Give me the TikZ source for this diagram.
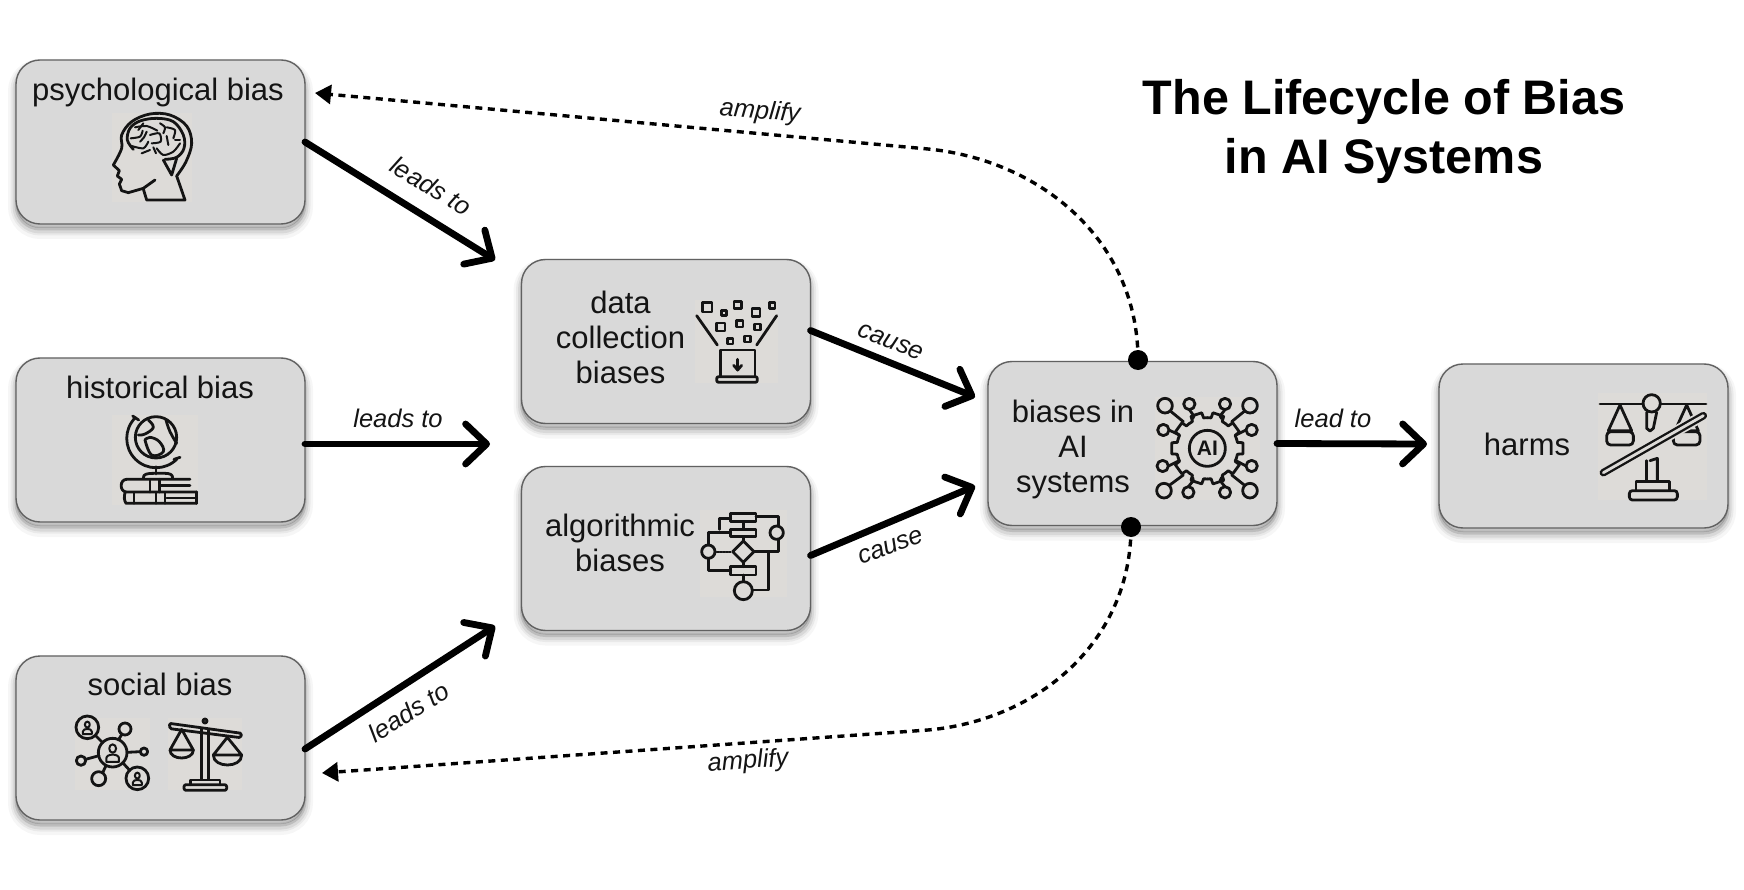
\documentclass[tikz,border=0pt]{standalone}
\usepackage{fontspec}
\setmainfont{Liberation Sans}
\usetikzlibrary{arrows.meta,calc}
\definecolor{boxgray}{HTML}{D9D9D9}
\definecolor{patchgray}{HTML}{DDDBD8}
\definecolor{inkc}{HTML}{141414}
\tikzset{
 biasbox/.style={rounded corners=24pt,fill=boxgray,draw=black!62,line width=1.4pt,minimum width=289pt,minimum height=164pt,inner sep=0pt,outer sep=0pt,
  preaction={draw=black,opacity=.035,line width=16pt,transform canvas={yshift=-7pt}},
  preaction={draw=black,opacity=.05,line width=11pt,transform canvas={yshift=-6pt}},
  preaction={draw=black,opacity=.07,line width=7pt,transform canvas={yshift=-6pt}},
  preaction={draw=black,opacity=.12,line width=3pt,transform canvas={yshift=-5pt}},
  preaction={fill=black,opacity=.16,transform canvas={yshift=-4pt}}},
 boxtext/.style={font=\fontsize{31}{35}\selectfont,text=inkc,align=center,inner sep=0pt},
 edgetext/.style={font=\fontsize{25.5}{30}\selectfont\itshape,text=inkc,inner sep=0pt},
 titletext/.style={font=\fontsize{48.5}{59}\selectfont\bfseries,text=black,align=center,inner sep=0pt},
 mainarrow/.style={draw=black,line width=6.8pt,line cap=round,-{Straight Barb[length=21pt,width=40pt,round]}},
 dotarrow/.style={draw=black,line width=3.4pt,dash pattern=on 7pt off 5.5pt,-{Triangle[length=16pt,width=19pt]}},
 enddot/.style={circle,fill=black,minimum size=20pt,inner sep=0pt,outer sep=0pt},
 ic/.style={draw=inkc,line width=2.8pt,line cap=round,line join=round},
 icthin/.style={draw=inkc,line width=2pt,line cap=round,line join=round},
 patch/.style={fill=patchgray},
 zoomed/.style n args={2}{xshift=#1pt,yshift=-#2pt,x=.33333pt,y=-.33333pt}
}
\newcommand{\pplicon}[3]{\begin{scope}[shift={(#1,#2)},scale=#3]
 \draw[icthin] (0,-.38) ellipse (.27 and .33);
 \draw[icthin] (-.5,.68) -- (-.5,.4) .. controls (-.5,0) and (.5,0) .. (.5,.4) -- (.5,.68) -- cycle;
\end{scope}}
\begin{document}
\begin{tikzpicture}[x=1pt,y=-1pt]
\useasboundingbox (0,0) rectangle (1744,890);
\fill[white] (0,0) rectangle (1744,890);

% boxes
\node[biasbox] (psych) at (160.5,142) {};
\node[biasbox] (hist) at (160.5,440) {};
\node[biasbox] (social) at (160.5,738) {};
\node[biasbox] (data) at (666,341.5) {};
\node[biasbox] (algo) at (666,548.5) {};
\node[biasbox] (ai) at (1132.5,443.5) {};
\node[biasbox] (harms) at (1583.5,446) {};

% box texts
\node[boxtext] (tpsych) at (158,92.5) {psychological bias};
\node[boxtext] (thist) at (160,387) {historical bias};
\node[boxtext] (tsocial) at (160,684) {social bias};
\node[boxtext] (tdata) at (620.5,337) {data\\collection\\biases};
\node[boxtext] (talgo) at (620,543) {algorithmic\\biases};
\node[boxtext] (tai) at (1073,449) {biases in\\AI\\systems};
\node[boxtext] (tharms) at (1527,444) {harms};

% title
\node[titletext] (title) at (1384,131.5) {The Lifecycle of Bias\\in AI Systems};

% free ends
\coordinate (tipdata1) at (495,260);
\coordinate (tipdata2) at (490,444);
\coordinate (tipalgo) at (495,626);
\coordinate (tipai1) at (975,397);
\coordinate (tipai2) at (975,486);
\coordinate (tipharms) at (1427,444);
\coordinate (tippsych) at (315,93);
\coordinate (tipsocial) at (322,773);
\coordinate (bendtop) at (928,149);
\coordinate (bendbot) at (928,730);

% main arrows
\draw[mainarrow] (psych.east) -- (tipdata1);
\draw[mainarrow] ([yshift=-4pt]hist.east) -- (tipdata2);
\draw[mainarrow] ([yshift=-11pt]social.east) -- (tipalgo);
\draw[mainarrow] ([yshift=11pt]data.east) -- (tipai1);
\draw[mainarrow] ([yshift=-7pt]algo.east) -- (tipai2);
\draw[mainarrow] ([yshift=0pt]ai.east) -- (tipharms);

% dotted arrows
\node[enddot] (dottop) at (1138,360) {};
\node[enddot] (dotbot) at (1131,527) {};
\draw[dotarrow] (dottop.center) .. controls (1138,240) and (1040,160) .. (bendtop) -- (tippsych);
\draw[dotarrow] (dotbot.center) .. controls (1131,640) and (1040,720) .. (bendbot) -- (tipsocial);

% edge labels
\node[edgetext,rotate=-31] (l1) at (431,186) {leads to};
\node[edgetext] (l2) at (398,418) {leads to};
\node[edgetext,rotate=32] (l3) at (409,712) {leads to};
\node[edgetext,rotate=-22] (l4) at (891,342) {cause};
\node[edgetext,rotate=20] (l5) at (891,547) {cause};
\node[edgetext] (l6) at (1333,418) {lead to};
\node[edgetext,rotate=-5] (l7) at (760,112) {amplify};
\node[edgetext,rotate=4] (l8) at (748,762) {amplify};

% ---------- head icon
\begin{scope}[zoomed={0}{40}]
\fill[patch] (335,220) rectangle (575,485);
\draw[ic] (430,447) -- (440,480) -- (555,480) -- (530,408);
\draw[ic] plot[smooth,tension=.6] coordinates {(530,408) (558,365) (575,310) (560,258) (510,225) (450,222) (395,245) (365,285) (365,325) (340,375)};
\draw[ic] (340,375) -- (358,392) -- (352,408) -- (365,418) -- (358,432) -- (365,452) -- (385,458) -- (430,445) -- (465,420);
\draw[ic] plot[smooth,tension=.6] coordinates {(400,328) (382,300) (390,265) (420,243) (470,235) (520,245) (550,285) (552,325) (530,352) (495,358)};
\draw[ic] (490,360) -- (515,405) -- (530,355);
\draw[icthin] plot[smooth] coordinates {(392,295) (420,290) (428,272)};
\draw[icthin] plot[smooth] coordinates {(405,262) (440,258) (472,272)};
\draw[icthin] plot[smooth] coordinates {(450,285) (478,280) (482,305) (455,310)};
\draw[icthin] plot[smooth] coordinates {(395,318) (430,325) (445,305)};
\draw[icthin] plot[smooth] coordinates {(500,262) (525,270) (520,295)};
\draw[icthin] plot[smooth] coordinates {(470,325) (490,345) (520,335) (540,310)};
\draw[icthin] (500,288) -- (505,315);
\draw[icthin] (425,340) -- (450,330);
\draw[icthin] plot[smooth] coordinates {(440,275) (432,292) (420,305)};
\draw[icthin] plot[smooth] coordinates {(480,250) (495,262) (490,280)};
\draw[icthin] plot[smooth] coordinates {(525,300) (540,300)};
\draw[icthin] plot[smooth] coordinates {(460,322) (468,340)};
\draw[icthin] plot[smooth] coordinates {(430,250) (415,270)};
\end{scope}

% ---------- globe and books icon
\begin{scope}[zoomed={0}{340}]
\fill[patch] (335,225) rectangle (595,495);
\draw[ic] (468,292) circle (62);
\draw[ic] (406,233) arc[start angle=225,end angle=45,radius=88];
\draw[ic] (398,228) -- (416,240);
\draw[ic] (522,358) -- (540,352);
\draw[ic] plot[smooth,tension=.7] coordinates {(445,240) (460,262) (435,282) (415,285)};
\draw[ic] plot[smooth,tension=.7] coordinates {(435,300) (455,345) (490,335) (478,305) (450,292) (435,300)};
\draw[ic] plot[smooth,tension=.7] coordinates {(498,240) (510,275) (530,310)};
\draw[ic] (468,380) -- (468,402);
\draw[ic] (430,414) .. controls (430,402) and (440,400) .. (465,400) -- (495,400) .. controls (510,400) and (518,404) .. (518,414);
\draw[ic] (570,418) -- (380,418) .. controls (358,418) and (358,456) .. (380,456) -- (590,456);
\draw[ic] (375,458) .. controls (372,470) and (372,480) .. (378,490) -- (590,490);
\draw[ic] (480,436) -- (570,436);
\draw[ic] (450,418) -- (450,456);
\draw[ic] (478,418) -- (478,456);
\draw[ic] (468,458) -- (468,490);
\draw[ic] (495,458) -- (495,490);
\draw[ic] (500,474) -- (590,474);
\draw[ic] (402,458) -- (402,490);
\draw[ic] (590,456) -- (590,490);
\end{scope}

% ---------- network and scales icons
\begin{scope}[zoomed={0}{640}]
\fill[patch] (225,235) rectangle (450,450);
\fill[patch] (505,235) rectangle (725,450);
\draw[ic] (338,338) circle (43);
\draw[ic] (262,262) circle (34);
\draw[ic] (412,415) circle (34);
\draw[ic] (375,267) circle (18);
\draw[ic] (432,335) circle (11);
\draw[ic] (243,362) circle (14);
\draw[ic] (296,416) circle (21);
\draw[ic] (287,287) -- (308,308);
\draw[ic] (365,284) -- (355,300);
\draw[ic] (381,337) -- (421,335);
\draw[ic] (257,358) -- (297,347);
\draw[ic] (308,398) -- (318,377);
\draw[ic] (368,368) -- (390,392);
\pplicon{338}{340}{38}
\pplicon{262}{264}{27}
\pplicon{412}{417}{27}
\draw[ic,rounded corners=1.5pt] (508,250) -- (725,280) -- (722,293) -- (510,266) -- cycle;
\draw[ic] (615,243) circle (6);
\draw[ic] (605,268) -- (605,418);
\draw[ic] (626,270) -- (626,418);
\draw[ic] (545,268) -- (510,330) -- (580,330) -- cycle;
\draw[ic] (510,330) .. controls (510,362) and (580,362) .. (580,330);
\draw[ic] (682,292) -- (640,345) -- (725,345) -- cycle;
\draw[ic] (640,345) .. controls (640,385) and (725,385) .. (725,345);
\draw[ic] (572,434) -- (572,420) -- (660,420) -- (660,434);
\draw[ic,rounded corners=2pt] (552,434) rectangle (680,451);
\end{scope}

% ---------- data collection icon
\begin{scope}[zoomed={510}{250}]
\fill[patch] (555,150) rectangle (805,400);
\draw[ic] (578,158) rectangle (606,186);
\draw[ic] (635,182) rectangle (650,197);
\draw[ic] (672,154) rectangle (694,176);
\draw[ic] (726,175) rectangle (750,199);
\draw[ic] (778,158) rectangle (795,175);
\draw[ic] (620,219) rectangle (645,243);
\draw[ic] (680,212) rectangle (699,231);
\draw[ic] (733,222) rectangle (751,240);
\draw[ic] (652,265) rectangle (669,282);
\draw[ic] (703,258) rectangle (721,276);
\draw[ic] (560,197) -- (622,285);
\draw[ic] (800,197) -- (740,285);
\draw[ic] (632,378) -- (632,300) -- (735,300) -- (735,378);
\draw[ic,rounded corners=2pt] (620,380) -- (742,380) -- (742,397) -- (620,397) -- cycle;
\draw[ic] (683,328) -- (683,360);
\draw[ic] (671,346) -- (683,360) -- (695,346);
\end{scope}

% ---------- flowchart icon
\begin{scope}[zoomed={510}{250}]
\fill[patch] (570,780) rectangle (830,1040);
\draw[ic] (662,790) rectangle (738,815);
\draw[ic] (662,838) rectangle (738,860);
\draw[ic] (700,815) -- (700,838);
\draw[ic] (738,800) -- (805,800) -- (805,828);
\draw[ic] (800,848) circle (20);
\draw[ic] (805,868) -- (805,905) -- (732,905);
\draw[ic] (700,873) -- (732,905) -- (700,937) -- (668,905) -- cycle;
\draw[ic] (700,860) -- (700,873);
\draw[ic] (595,905) circle (20);
\draw[icthin,densely dotted] (620,905) -- (662,905);
\draw[ic] (595,885) -- (595,848) -- (662,848);
\draw[ic] (595,925) -- (595,962) -- (662,962);
\draw[ic] (628,838) -- (628,805) -- (662,805);
\draw[ic] (662,950) rectangle (738,975);
\draw[ic] (700,937) -- (700,950);
\draw[ic] (700,975) -- (700,995);
\draw[ic] (700,1022) circle (27);
\draw[ic] (727,1020) -- (775,1020) -- (775,905);
\end{scope}

% ---------- AI gear icon
\begin{scope}[zoomed={970}{340}]
\fill[patch] (555,170) rectangle (870,480);
\foreach \a in {0,36,...,324}{
 \draw[ic] ([shift={(\a-18:92)}]712,325) -- ([shift={(\a-11:92)}]712,325) -- ([shift={(\a-9:108)}]712,325) -- ([shift={(\a+9:108)}]712,325) -- ([shift={(\a+11:92)}]712,325) -- ([shift={(\a+18:92)}]712,325);
}
\draw[ic] (712,325) circle (54);
\node[font=\fontsize{21}{21}\selectfont\bfseries,text=inkc,inner sep=0pt] (aitxt) at (712,325) {AI};
\foreach \cx/\cy/\r in {585/197/22,658/192/17,765/192/17,840/197/22,580/270/17,845/270/17,578/378/17,845/378/17,582/452/22,655/457/17,765/457/17,840/452/22}{
 \draw[ic] (\cx,\cy) circle (\r);
}
\draw[ic] (601,213) -- (640,245);
\draw[ic] (658,209) -- (672,228) -- (668,236);
\draw[ic] (765,209) -- (750,228) -- (755,236);
\draw[ic] (824,213) -- (785,245);
\draw[ic] (597,270) -- (628,285);
\draw[ic] (828,270) -- (798,285);
\draw[ic] (595,378) -- (628,362);
\draw[ic] (828,378) -- (798,362);
\draw[ic] (598,436) -- (640,405);
\draw[ic] (655,440) -- (670,422) -- (668,412);
\draw[ic] (765,440) -- (750,422) -- (755,412);
\draw[ic] (824,436) -- (785,405);
\end{scope}

% ---------- harms scales icon
\begin{scope}[zoomed={1430}{350}]
\fill[patch] (505,130) rectangle (830,450);
\draw[ic] (510,162) -- (640,162);
\draw[ic] (692,162) -- (828,162);
\draw[ic] (665,160) circle (26);
\draw[ic] (650,187) -- (650,235) -- (660,243) -- (670,235) -- (680,187);
\draw[ic] (570,165) -- (535,242) -- (605,242) -- cycle;
\draw[ic,rounded corners=4pt] (530,245) -- (610,245) -- (610,285) -- (530,285) -- cycle;
\draw[ic] (770,165) -- (735,242) -- (805,242) -- cycle;
\draw[ic,rounded corners=4pt] (730,245) -- (810,245) -- (810,285) -- (730,285) -- cycle;
\draw[patchgray,line width=11pt,line cap=round] (520,368) -- (820,197);
\draw[inkc,line width=7.5pt,line cap=round] (520,368) -- (820,197);
\draw[patchgray,line width=2.8pt,line cap=round] (520,368) -- (820,197);
\draw[ic] (650,392) -- (650,332);
\draw[ic] (682,392) -- (682,325) -- (660,332);
\draw[ic] (618,420) -- (618,395) -- (718,395) -- (718,420);
\draw[ic,rounded corners=3pt] (598,422) rectangle (742,450);
\end{scope}
\end{tikzpicture}
\end{document}
